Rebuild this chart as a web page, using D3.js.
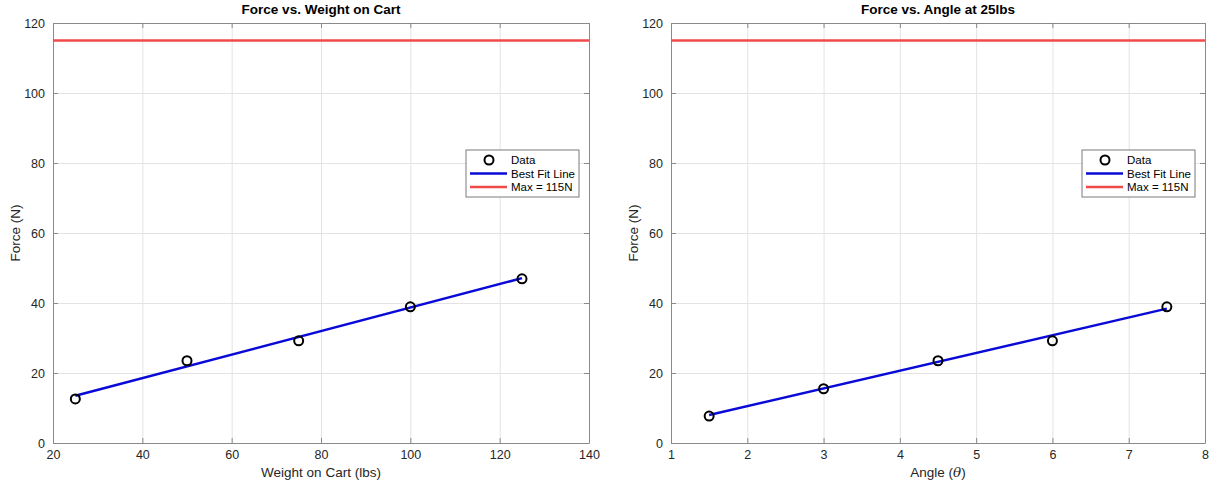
<!DOCTYPE html>
<html><head><meta charset="utf-8">
<script src="https://cdn.jsdelivr.net/npm/d3@7"></script>
<style>
body{margin:0;background:#fff;}
text{font-family:"Liberation Sans",Arial,Helvetica,sans-serif;}
</style></head>
<body><svg id="c" width="1210" height="484"></svg>
<script>
// ---- data ----
const weightX = [25, 50, 75, 100, 125];
const weightForce = [12.6, 23.5, 29.2, 38.9, 46.9];
const weightFitX = [25, 125];
const weightFitY = [13.5, 47.1];

const angleX = [1.5, 3, 4.5, 6, 7.5];
const angleForce = [7.7, 15.5, 23.5, 29.2, 38.9];
const angleFitX = [1.5, 7.5];
const angleFitY = [8.0, 38.4];

const maxForce = 115;
const yTicks = [0, 20, 40, 60, 80, 100, 120];
const weightTicks = [20, 40, 60, 80, 100, 120, 140];
const angleTicks = [1, 2, 3, 4, 5, 6, 7, 8];
const legendLabels = ["Data", "Best Fit Line", "Max = 115N"];

const svg = d3.select("#c");
const BLUE = "#0a0ad8", RED = "#f04a4a", AX = "#8a8a8a", TXT = "#262626", GRID = "#e3e3e3";
const fmt = d3.format("d");

function panel(opt){
  const {left, right, top, bottom, xDomain, xTicks, xs, ys, fitX, fitY, title, xlabel} = opt;
  const g = svg.append("g");
  const x = d3.scaleLinear().domain(xDomain).range([left, right]);
  const y = d3.scaleLinear().domain([0, 120]).range([bottom, top]);
  const W = right - left, H = bottom - top;

  // grid
  g.append("g").attr("transform", `translate(0,${bottom})`)
    .call(d3.axisBottom(x).tickValues(xTicks).tickSize(-H).tickFormat(""))
    .call(s => { s.select(".domain").remove(); s.selectAll("line").attr("stroke", GRID); });
  g.append("g").attr("transform", `translate(${left},0)`)
    .call(d3.axisLeft(y).tickValues(yTicks).tickSize(-W).tickFormat(""))
    .call(s => { s.select(".domain").remove(); s.selectAll("line").attr("stroke", GRID); });

  // axes (ticks inward)
  const styleAx = s => {
    s.select(".domain").attr("stroke", AX);
    s.selectAll(".tick line").attr("stroke", AX);
    s.selectAll("text").attr("fill", TXT).style("font-size", "12.5px").style("font-family", '"Liberation Sans",Arial,sans-serif');
  };
  g.append("g").attr("transform", `translate(0,${bottom})`)
    .call(d3.axisBottom(x).tickValues(xTicks).tickFormat(fmt).tickSizeInner(-5).tickSizeOuter(0).tickPadding(7))
    .call(styleAx);
  g.append("g").attr("transform", `translate(0,${top})`)
    .call(d3.axisTop(x).tickValues(xTicks).tickSizeInner(-5).tickSizeOuter(0).tickFormat(""))
    .call(styleAx);
  g.append("g").attr("transform", `translate(${left},0)`)
    .call(d3.axisLeft(y).tickValues(yTicks).tickFormat(fmt).tickSizeInner(-5).tickSizeOuter(0).tickPadding(8))
    .call(styleAx);
  g.append("g").attr("transform", `translate(${right},0)`)
    .call(d3.axisRight(y).tickValues(yTicks).tickSizeInner(-5).tickSizeOuter(0).tickFormat(""))
    .call(styleAx);

  // max line
  g.append("line").attr("x1", left).attr("x2", right)
    .attr("y1", y(maxForce)).attr("y2", y(maxForce))
    .attr("stroke", RED).attr("stroke-width", 2.5);

  // fit line
  const line = d3.line().x(d => x(d[0])).y(d => y(d[1]));
  g.append("path").datum(fitX.map((v, i) => [v, fitY[i]]))
    .attr("d", line).attr("fill", "none").attr("stroke", BLUE).attr("stroke-width", 2.5);

  // data points
  g.selectAll("circle.pt").data(xs.map((v, i) => [v, ys[i]])).join("circle")
    .attr("class", "pt").attr("cx", d => x(d[0])).attr("cy", d => y(d[1]))
    .attr("r", 4.5).attr("fill", "none").attr("stroke", "#000").attr("stroke-width", 2);

  // title
  g.append("text").attr("x", (left + right) / 2).attr("y", top - 9)
    .attr("text-anchor", "middle").attr("font-weight", "bold").attr("font-size", "13.5px")
    .attr("fill", "#000").text(title);

  // x label
  const xl = g.append("text").attr("x", (left + right) / 2).attr("y", bottom + 34)
    .attr("text-anchor", "middle").attr("font-size", "13.5px").attr("fill", TXT);
  xlabel(xl);

  // y label
  g.append("text").attr("transform", `translate(${left - 33},${(top + bottom) / 2}) rotate(-90)`)
    .attr("text-anchor", "middle").attr("font-size", "13.5px").attr("fill", TXT).text("Force (N)");

  // legend
  const lw = 113, lh = 47, lx = right - 10 - lw, ly = 150;
  const lg = g.append("g").attr("transform", `translate(${lx},${ly})`);
  lg.append("rect").attr("width", lw).attr("height", lh).attr("fill", "#fff").attr("stroke", "#7a7a7a").attr("stroke-width", 1);
  const rows = [10, 23.5, 37];
  lg.append("circle").attr("cx", 23).attr("cy", rows[0]).attr("r", 4.5).attr("fill", "none").attr("stroke", "#000").attr("stroke-width", 2);
  lg.append("line").attr("x1", 4).attr("x2", 41).attr("y1", rows[1]).attr("y2", rows[1]).attr("stroke", BLUE).attr("stroke-width", 2.5);
  lg.append("line").attr("x1", 4).attr("x2", 41).attr("y1", rows[2]).attr("y2", rows[2]).attr("stroke", RED).attr("stroke-width", 2.5);
  lg.selectAll("text.lt").data(legendLabels).join("text").attr("class", "lt")
    .attr("x", 45).attr("y", (d, i) => rows[i] + 4).attr("font-size", "11.5px").attr("fill", "#000").text(d => d);
}

panel({left: 53, right: 589, top: 23, bottom: 443, xDomain: [20, 140], xTicks: weightTicks,
  xs: weightX, ys: weightForce, fitX: weightFitX, fitY: weightFitY,
  title: "Force vs. Weight on Cart",
  xlabel: t => t.text("Weight on Cart (lbs)")});

panel({left: 671, right: 1205, top: 23, bottom: 443, xDomain: [1, 8], xTicks: angleTicks,
  xs: angleX, ys: angleForce, fitX: angleFitX, fitY: angleFitY,
  title: "Force vs. Angle at 25lbs",
  xlabel: t => { t.append("tspan").text("Angle ("); t.append("tspan").attr("font-style", "italic").attr("font-family", '"DejaVu Serif",serif').text("θ"); t.append("tspan").text(")"); }});
</script>
</body></html>
